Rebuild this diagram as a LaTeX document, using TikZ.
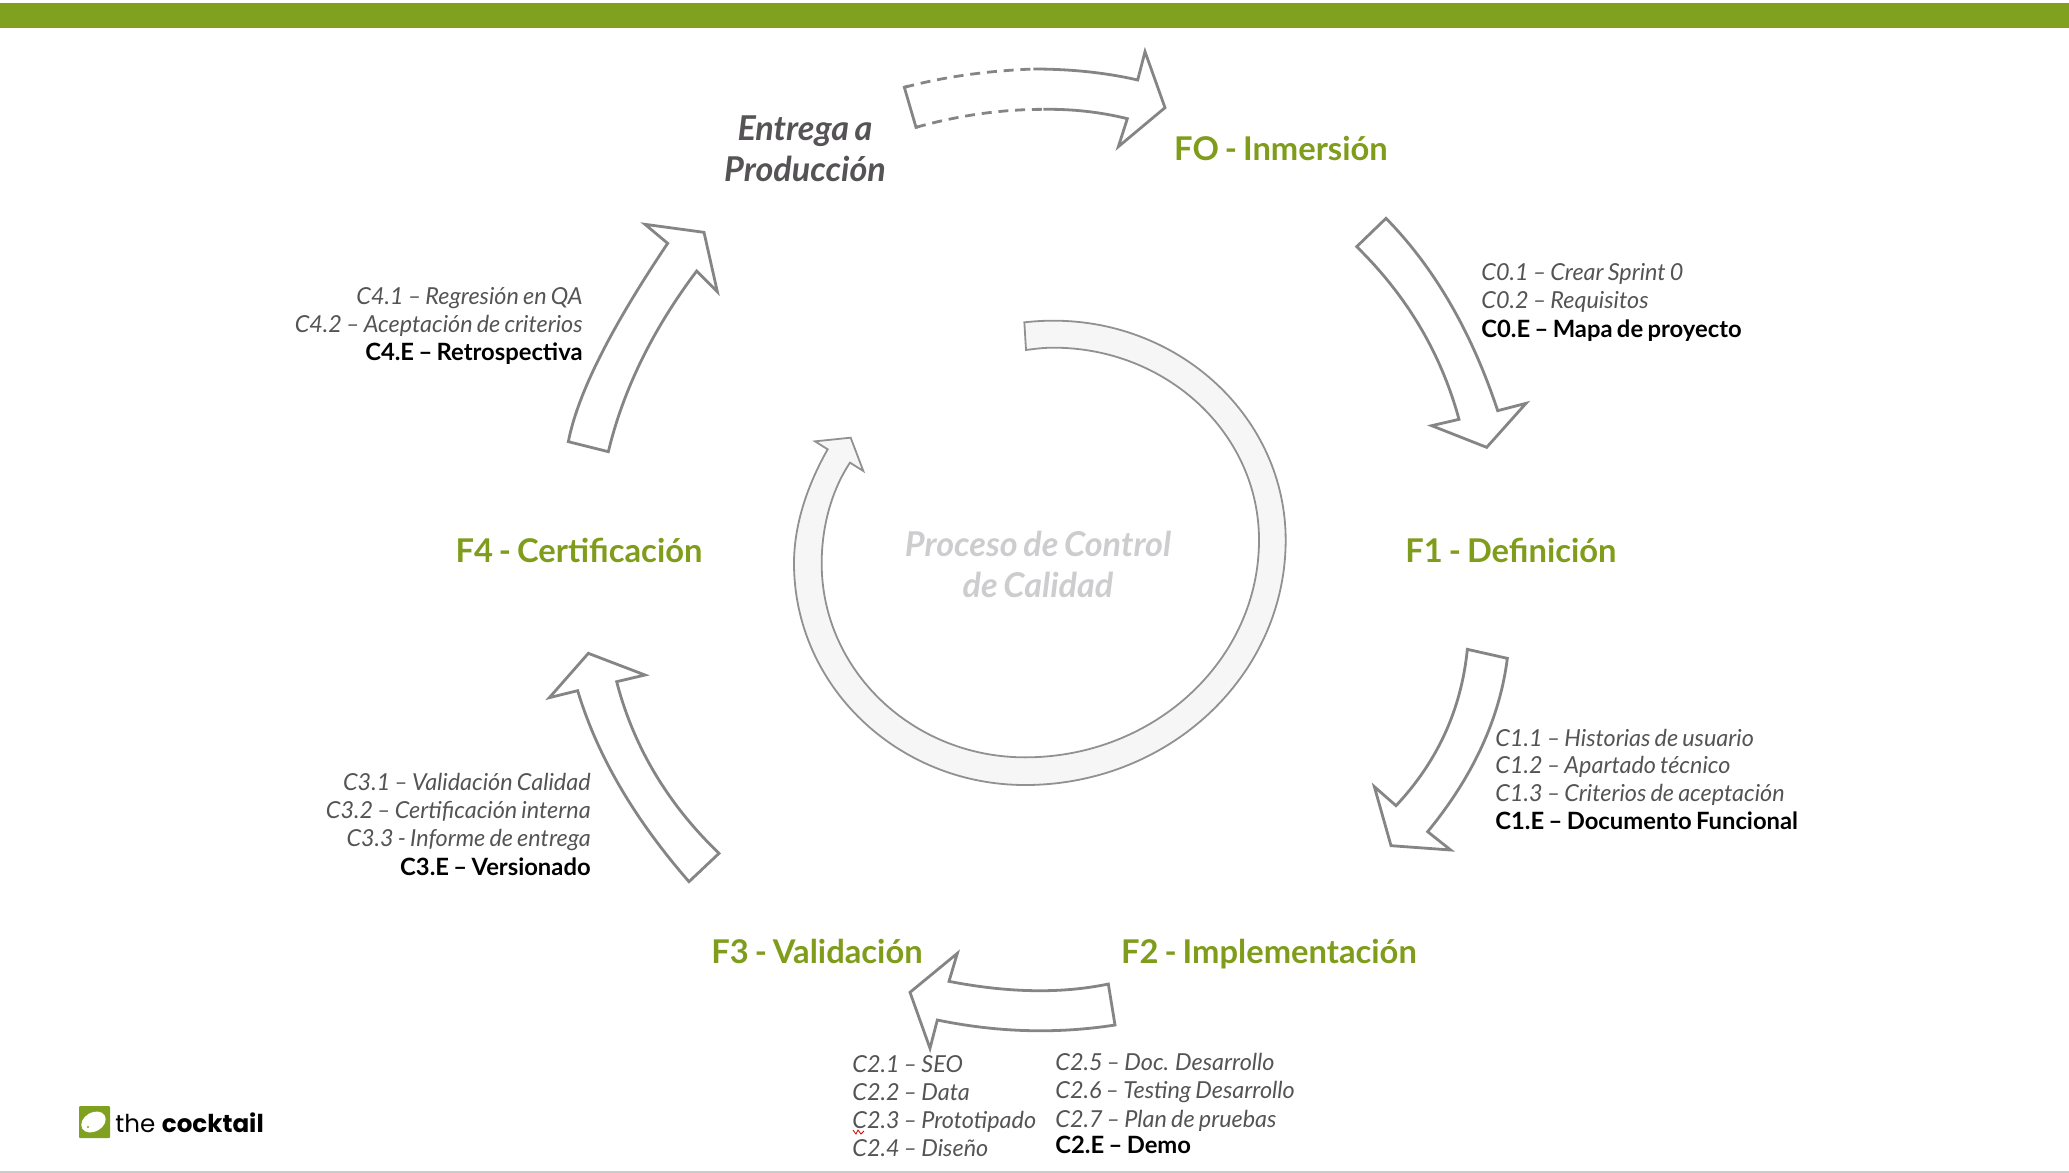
\documentclass[tikz,border=0pt]{standalone}
\usepackage{fontspec}
\usetikzlibrary{calc}
\setmainfont{Lato}[WordSpace=0.75]
\newfontfamily\logofont{Poppins}
\definecolor{barg}{HTML}{80A020}
\definecolor{headg}{HTML}{7F9C1A}
\definecolor{arrowg}{HTML}{858585}
\definecolor{txtg}{HTML}{555355}
\definecolor{ringf}{HTML}{F6F6F6}
\definecolor{ctrl}{HTML}{CDCDCF}
\newcommand\qcurve[3]{.. controls ($(#1)!.6667!(#2)$) and ($(#3)!.6667!(#2)$) .. (#3)}
\tikzset{
  arrowshape/.style={draw=arrowg,line width=1.4pt,line join=miter,fill=white},
  ringshape/.style={draw=arrowg!90,line width=.9pt,fill=ringf,line join=miter},
  zoomed/.style={x=0.166667pt,y=-0.166667pt},
  heading/.style={inner sep=0,font=\fontsize{16.35}{20}\selectfont\bfseries,text=headg,anchor=base},
  title/.style={inner sep=0,font=\fontsize{17.1}{20}\selectfont\bfseries\itshape,anchor=base},
  litem/.style={inner sep=0,font=\fontsize{11.7}{14}\selectfont\itshape,text=txtg,anchor=base west},
  ritem/.style={inner sep=0,font=\fontsize{11.7}{14}\selectfont\itshape,text=txtg,anchor=base east},
  lbold/.style={inner sep=0,font=\fontsize{11.9}{14}\selectfont\bfseries,text=black,anchor=base west},
  rbold/.style={inner sep=0,font=\fontsize{11.9}{14}\selectfont\bfseries,text=black,anchor=base east},
}
\begin{document}
\begin{tikzpicture}[x=0.5pt,y=-0.5pt]
\useasboundingbox (0,0) rectangle (2069,1173);
\fill[barg] (0,3) rectangle (2069,28);
\fill[gray!40] (0,1171) rectangle (2069,1173);

% top arrow, partly dashed
\begin{scope}[shift={(850,20)},zoomed]
\fill[white] (163,202) \qcurve{163,202}{340,155}{550,147} \qcurve{550,147}{720,147}{863,180} -- (885,95) -- (945,263) -- (805,380) -- (832,296) \qcurve{832,296}{710,266}{580,268} \qcurve{580,268}{390,268}{198,322} -- cycle;
\draw[draw=arrowg,line width=1.4pt,line join=miter] (550,147) \qcurve{550,147}{720,147}{863,180} -- (885,95) -- (945,263) -- (805,380) -- (832,296) \qcurve{832,296}{710,266}{580,268};
\draw[draw=arrowg,line width=1.4pt,dash pattern=on 5pt off 3.4pt] (163,202) \qcurve{163,202}{340,155}{550,147};
\draw[draw=arrowg,line width=1.4pt,dash pattern=on 5pt off 3.4pt] (198,322) \qcurve{198,322}{390,268}{580,268};
\draw[draw=arrowg,line width=1.4pt,line join=miter] (205,320) -- (198,322) -- (163,202) -- (175,198);
\end{scope}

% C0 arrow
\begin{scope}[shift={(1340,200)},zoomed]
\draw[arrowshape] (50,140) -- (138,55) \qcurve{138,55}{355,276}{473,632} -- (558,610) -- (440,742) -- (275,677) -- (357,658) \qcurve{357,658}{276,361}{50,140} -- cycle;
\end{scope}
% C1 arrow
\begin{scope}[shift={(1360,640)},zoomed]
\draw[arrowshape] (322,28) -- (442,55) \qcurve{442,55}{408,325}{203,575} -- (272,630) -- (93,617) -- (43,440) -- (108,497) \qcurve{108,497}{295,298}{322,28} -- cycle;
\end{scope}
% C2 arrow
\begin{scope}[shift={(900,940)},zoomed]
\draw[arrowshape] (625,132) -- (645,255) \qcurve{645,255}{382,296}{112,240} -- (90,325) -- (30,157) -- (172,40) -- (147,124) \qcurve{147,124}{414,176}{625,132} -- cycle;
\end{scope}
% C3 arrow
\begin{scope}[shift={(540,640)},zoomed]
\draw[arrowshape] (537,640) -- (447,725) \qcurve{447,725}{200,442}{113,152} -- (28,173) -- (145,40) -- (315,105) -- (230,125) \qcurve{230,125}{306,418}{537,640} -- cycle;
\end{scope}
% C4 arrow
\begin{scope}[shift={(280,200)},zoomed]
\draw[arrowshape] (865,725) -- (985,755) \qcurve{985,755}{1052,476}{1250,213} -- (1312,275) -- (1272,97) -- (1095,73) -- (1163,130) \qcurve{1163,130}{906,512}{865,725} -- cycle;
\end{scope}

% central ring
\begin{scope}[shift={(780,300)},zoomed]
\draw[ringshape]
 (733,67) .. controls (760,64) and (790,62) .. (820,62)
 .. controls (1205,62) and (1517,357) .. (1517,720)
 .. controls (1517,1126) and (1167,1455) .. (735,1455)
 .. controls (352,1455) and (42,1157) .. (42,790)
 .. controls (42,670) and (85,550) .. (143,448)
 -- (105,424) -- (212,413) -- (250,513) -- (210,488)
 .. controls (155,570) and (125,680) .. (125,790)
 .. controls (125,1111) and (398,1372) .. (735,1372)
 .. controls (1123,1372) and (1437,1080) .. (1437,720)
 .. controls (1437,401) and (1161,143) .. (820,143)
 .. controls (790,143) and (760,147) .. (738,150)
 -- cycle;
\end{scope}

% headings
\node[heading] (f0) at (1281,160) {FO - Inmersión};
\node[heading] (f1) at (1511,562) {F1 - Definición};
\node[heading] (f2) at (1269,963) {F2 - Implementación};
\node[heading] (f3) at (817,963) {F3 - Validación};
\node[heading] (f4) at (579,562) {F4 - Certificación};
\node[title,text=txtg] (e1) at (805,140) {Entrega a};
\node[title,text=txtg] (e2) at (805,181) {Producción};
\node[title,text=ctrl] (p1) at (1038,556) {Proceso de Control};
\node[title,text=ctrl] (p2) at (1038,597) {de Calidad};

% C0
\node[litem] (c01) at (1481,280) {C0.1 – Crear Sprint 0};
\node[litem] (c02) at (1481,308.5) {C0.2 – Requisitos};
\node[lbold] (c0e) at (1481,337) {C0.E – Mapa de proyecto};
% C1
\node[litem] (c11) at (1495,746) {C1.1 – Historias de usuario};
\node[litem] (c12) at (1495,773.5) {C1.2 – Apartado técnico};
\node[litem] (c13) at (1495,801) {C1.3 – Criterios de aceptación};
\node[lbold] (c1e) at (1495,829) {C1.E – Documento Funcional};
% C2
\node[litem] (c21) at (852,1072) {C2.1 – SEO};
\node[litem] (c22) at (852,1100) {C2.2 – Data};
\node[litem] (c23) at (852,1128) {C2.3 – Prototipado};
\node[litem] (c24) at (852,1156) {C2.4 – Diseño};
\node[litem] (c25) at (1055,1070) {C2.5 – Doc. Desarrollo};
\node[litem] (c26) at (1055,1098) {C2.6 – Testing Desarrollo};
\node[litem] (c27) at (1055,1127) {C2.7 – Plan de pruebas};
\node[lbold] (c2e) at (1055,1153) {C2.E – Demo};
\draw[red!80!black,line width=.4pt] (853,1130) -- (856,1134) -- (858,1130) -- (861,1134) -- (864,1131);
% C3
\node[ritem] (c31) at (591,790) {C3.1 – Validación Calidad};
\node[ritem] (c32) at (591,818) {C3.2 – Certificación interna};
\node[ritem] (c33) at (591,846) {C3.3 - Informe de entrega};
\node[rbold] (c3e) at (591,875) {C3.E – Versionado};
% C4
\node[ritem] (c41) at (583,304) {C4.1 – Regresión en QA};
\node[ritem] (c42) at (583,332) {C4.2 – Aceptación de criterios};
\node[rbold] (c4e) at (583,360) {C4.E – Retrospectiva};

% logo
\fill[barg,rounded corners=.5pt] (79,1106) rectangle (110,1138);
\fill[white,rotate around={30:(93.5,1122)}] (93.5,1122) ellipse [x radius=13,y radius=9.5];
\fill[barg] (88,1127) circle (1.2);
\node[inner sep=0,anchor=base west,font=\logofont\fontsize{12.3}{14}\selectfont] (logo) at (115,1132) {the {\bfseries cocktail}};
\end{tikzpicture}
\end{document}
